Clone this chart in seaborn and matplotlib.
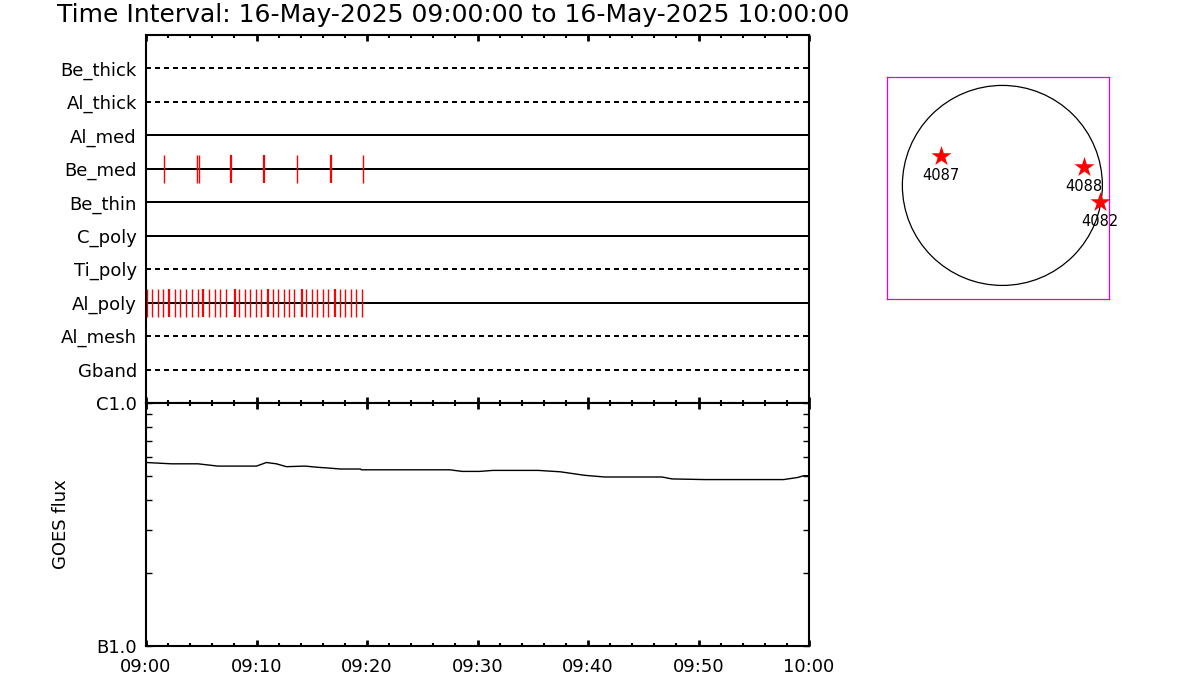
import numpy as np
import pandas as pd
import matplotlib
matplotlib.use('Agg')
import matplotlib.pyplot as plt
import matplotlib.ticker as mticker
from matplotlib.patches import Circle
import seaborn as sns

# detector rows, top to bottom; dashed line = no data in interval
rows = ['Be_thick', 'Al_thick', 'Al_med', 'Be_med', 'Be_thin',
        'C_poly', 'Ti_poly', 'Al_poly', 'Al_mesh', 'Gband']
row_has_data = [False, False, True, True, True, True, False, True, False, False]

# image times, minutes after 09:00 (double = two images at same time)
be_med_single = [1.66, 4.64, 4.80, 13.69, 19.67]
be_med_double = [7.67, 10.68, 16.71]
al_poly_single = [0.06, 0.57, 1.06, 1.57, 2.62, 3.10, 3.65, 4.14, 4.73,
                  5.73, 6.22, 6.72, 7.21, 8.44, 8.93, 9.44, 9.93, 10.43,
                  11.47, 11.95, 12.46, 12.94, 13.42, 14.51, 15.00, 15.50,
                  15.99, 16.50, 17.56, 18.04, 18.52, 19.03, 19.55]
al_poly_double = [2.08, 5.13, 8.03, 11.01, 14.12, 17.08]

# GOES 1-8 A flux (units of 1e-6 W/m^2)
goes_min = [0, 2.3, 4.7, 5.3, 6.5, 10.0, 10.9, 11.8, 12.7, 14.4, 15.5, 16.5,
            17.6, 19.4, 19.5, 27.5, 28.6, 30.2, 31.4, 35.5, 37.5, 39.7, 41.5,
            46.7, 47.6, 50.6, 57.7, 59.0, 59.5, 60]
goes_flux = [5.69, 5.62, 5.62, 5.58, 5.50, 5.50, 5.69, 5.62, 5.47, 5.50, 5.44,
             5.40, 5.35, 5.35, 5.31, 5.31, 5.23, 5.23, 5.28, 5.28, 5.21, 5.04,
             4.96, 4.96, 4.87, 4.84, 4.84, 4.94, 5.02, 5.02]

# active regions (arcsec from disk centre)
ar_num = ['4087', '4088', '4082']
ar_x = [-586, 775, 931]
ar_y = [282, 175, -158]
r_sun = 950

time_ticks = [0, 10, 20, 30, 40, 50, 60]
time_labels = ['09:00', '09:10', '09:20', '09:30', '09:40', '09:50', '10:00']
title = 'Time Interval: 16-May-2025 09:00:00 to 16-May-2025 10:00:00'

sns.set_style('white')
plt.rcParams['font.family'] = ['DejaVu Sans']
plt.rcParams['axes.linewidth'] = 1.5
plt.rcParams['axes.edgecolor'] = 'black'
plt.rcParams['text.color'] = 'black'
plt.rcParams['axes.labelcolor'] = 'black'
plt.rcParams['xtick.color'] = 'black'
plt.rcParams['ytick.color'] = 'black'

fig = plt.figure(figsize=(12, 7), dpi=100)
ax1 = fig.add_axes([146 / 1200, 1 - 403 / 700, 663 / 1200, 368 / 700])
ax2 = fig.add_axes([146 / 1200, 1 - 646 / 700, 663 / 1200, 243 / 700])
ax3 = fig.add_axes([887 / 1200, 1 - 299 / 700, 222 / 1200, 222 / 700])

# --- detector timeline panel
ypos = np.arange(1, len(rows) + 1)
for y, has in zip(ypos, row_has_data):
    ax1.axhline(y, color='black', lw=1.44,
                ls='-' if has else (0, (2.5, 2)))

def ticks(ax, times, row, lw):
    y = rows.index(row) + 1
    ax.vlines(times, y - 0.42, y + 0.42, color='red', lw=lw)

ticks(ax1, be_med_single, 'Be_med', 1.0)
ticks(ax1, be_med_double, 'Be_med', 1.6)
ticks(ax1, al_poly_single, 'Al_poly', 1.0)
ticks(ax1, al_poly_double, 'Al_poly', 1.6)

ax1.set_xlim(0, 60)
ax1.set_ylim(len(rows) + 1, 0)
ax1.set_yticks(ypos)
ax1.set_yticklabels(rows, fontsize=13)
ax1.tick_params(axis='y', length=0, pad=6.5)
ax1.set_xticks(time_ticks)
ax1.xaxis.set_minor_locator(mticker.MultipleLocator(2))
ax1.tick_params(axis='x', which='both', direction='in', top=True, bottom=True,
                labelbottom=False, width=1.5)
ax1.tick_params(axis='x', which='major', length=4.5, width=2)
ax1.tick_params(axis='x', which='minor', length=2.5)

# --- GOES panel
goes = pd.DataFrame({'t': goes_min, 'flux': np.array(goes_flux) * 1e-6})
sns.lineplot(data=goes, x='t', y='flux', ax=ax2, color='black', lw=1.0)
ax2.set_yscale('log')
ax2.set_ylim(1e-6, 1e-5)
ax2.set_xlim(0, 60)
ax2.set_yticks([1e-6, 1e-5])
ax2.set_yticklabels(['B1.0', 'C1.0'], fontsize=13)
ax2.yaxis.set_minor_locator(mticker.LogLocator(subs=np.arange(2, 10)))
ax2.yaxis.set_minor_formatter(mticker.NullFormatter())
ax2.tick_params(axis='y', which='both', direction='in', left=True, right=True,
                length=4.5, width=1, pad=6.5)
ax2.set_xticks(time_ticks)
ax2.set_xticklabels(time_labels, fontsize=13)
ax2.xaxis.set_minor_locator(mticker.MultipleLocator(2))
ax2.tick_params(axis='x', which='both', direction='in', top=True, bottom=True,
                width=1.5, pad=9)
ax2.tick_params(axis='x', which='major', length=4.5, width=2)
ax2.tick_params(axis='x', which='minor', length=2.5)
ax2.set_xlabel('')
ax2.set_ylabel('GOES flux', fontsize=13, labelpad=10)
ax2.yaxis.set_label_coords(-0.115, 0.5)

# --- solar disk
ax3.add_patch(Circle((0, 0), r_sun, fill=False, color='black', lw=0.9))
sns.scatterplot(x=ar_x, y=ar_y, ax=ax3, marker='*', s=230, color='red',
                linewidth=0, zorder=3)
for n, x, y in zip(ar_num, ar_x, ar_y):
    ax3.annotate(n, (x, y), xytext=(0, -14), textcoords='offset points',
                 ha='center', va='center', fontsize=10.5, annotation_clip=False)
ax3.set_xlim(-1096, 1013)
ax3.set_ylim(-1079, 1030)
ax3.set_xticks([])
ax3.set_yticks([])
for sp in ax3.spines.values():
    sp.set_color('#e000e0')
    sp.set_linewidth(0.9)

fig.text(57 / 1200, 1 - 22 / 700, title, fontsize=18, ha='left',
         va='baseline')

fig.savefig('out.png', dpi=100)
